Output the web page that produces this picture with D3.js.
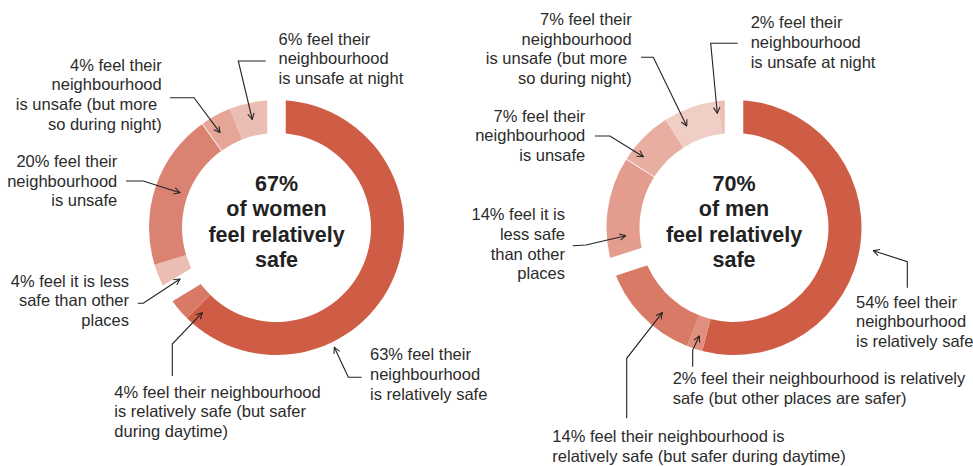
<!DOCTYPE html>
<html>
<head>
<meta charset="utf-8">
<script src="https://cdn.jsdelivr.net/npm/d3@7"></script>
<style>
  html, body { margin: 0; padding: 0; background: #fff; }
  svg { display: block; }
</style>
</head>
<body>
<svg id="chart" width="973" height="466"></svg>
<script>
// ---- DATA ----
const womenCategories = [
  "relatively safe",
  "relatively safe (but safer during daytime)",
  "less safe than other places",
  "unsafe",
  "unsafe (but more so during night)",
  "unsafe at night"
];
const womenValues = [63, 4, 4, 20, 4, 6];
const womenSafeTotal = 67;
const womenLabels = [
  "63% feel their|neighbourhood|is relatively safe",
  "4% feel their neighbourhood|is relatively safe (but safer|during daytime)",
  "4% feel it is less|safe than other|places",
  "20% feel their|neighbourhood|is unsafe",
  "4% feel their|neighbourhood|is unsafe (but more\u00A0|so during night)",
  "6% feel their|neighbourhood|is unsafe at night"
];
const womenTitle = ["67%", "of women", "feel relatively", "safe"];

const menCategories = [
  "relatively safe",
  "relatively safe (but other places are safer)",
  "relatively safe (but safer during daytime)",
  "less safe than other places",
  "unsafe",
  "unsafe (but more so during night)",
  "unsafe at night"
];
const menValues = [54, 2, 14, 14, 7, 7, 2];
const menSafeTotal = 70;
const menLabels = [
  "54% feel their|neighbourhood|is relatively safe",
  "2% feel their neighbourhood is relatively|safe (but other places are safer)",
  "14% feel their neighbourhood is|relatively safe (but safer during daytime)",
  "14% feel it is|less safe|than other|places",
  "7% feel their|neighbourhood|is unsafe",
  "7% feel their|neighbourhood|is unsafe (but more\u00A0|so during night)",
  "2% feel their|neighbourhood|is unsafe at night"
];
const menTitle = ["70%", "of men", "feel relatively", "safe"];

// ---- STYLE ----
const womenColors = ["#CF5C44", "#D97A67", "#EBBDB3", "#DA8372", "#E5A597", "#EBBDB3"];
const menColors = ["#CF5C44", "#E08E7E", "#D97A67", "#E39C8E", "#E8AEA2", "#F0CDC5", "#EBBFB5"];

// label layout: [x, first baseline, anchor, leader points...]
const womenLayout = [
  {x: 370, y: 360, a: "start", leader: [[361.7,377.3],[348.3,377.3],[334.3,347.3]]},
  {x: 114.3, y: 397.5, a: "start", leader: [[172.3,376],[172.3,344],[202.3,312.7]]},
  {x: 129, y: 286.5, a: "end", leader: [[137.7,303.3],[143.3,303.3],[180,279]]},
  {x: 117.3, y: 166.7, a: "end", leader: [[126,181],[143.3,181],[180,192.7]]},
  {x: 161.7, y: 70.5, a: "end", leader: [[170,97.7],[194,97.7],[220,132.7]]},
  {x: 278.5, y: 44.5, a: "start", leader: [[265.7,61],[238.3,61],[252.3,119.5]]}
];
const menLayout = [
  {x: 856, y: 307.5, a: "start", leader: [[907.3,287.7],[907.3,261.7],[873.3,250.7]]},
  {x: 672.7, y: 384, a: "start", leader: [[692.7,366.7],[692.7,350],[699.3,336]]},
  {x: 552.3, y: 441.7, a: "start", leader: [[626.7,418.3],[626.7,358.3],[662.3,312.7]]},
  {x: 565, y: 220, a: "end", leader: [[572.7,245.7],[586,245],[625.7,235.7]]},
  {x: 585.3, y: 121.5, a: "end", leader: [[595,136],[610,136],[643.3,156.7]]},
  {x: 631.7, y: 24.8, a: "end", leader: [[641,57.3],[653.3,57.3],[686.7,126]]},
  {x: 750.7, y: 28, a: "start", leader: [[737.7,43.3],[710.7,43.3],[717.3,113.3]]}
];

const svg = d3.select("#chart");
const FONT = "'Liberation Sans', Arial, Helvetica, sans-serif";
const outerR = 127.5, innerR = 94.5, gapW = 18.5;

const defs = svg.append("defs");
defs.append("marker")
  .attr("id", "arrow")
  .attr("viewBox", "0 0 10 10")
  .attr("refX", 9).attr("refY", 5)
  .attr("markerWidth", 8).attr("markerHeight", 8)
  .attr("markerUnits", "userSpaceOnUse")
  .attr("orient", "auto")
  .append("path")
  .attr("d", "M1.5,1 L9,5 L1.5,9")
  .attr("fill", "none")
  .attr("stroke", "#222")
  .attr("stroke-width", 1.3);

function donut(cx, cy, values, colors, safeTotal, sepIndex, title, labels, layout) {
  const g = svg.append("g").attr("transform", `translate(${cx},${cy})`);
  const total = d3.sum(values);
  const angle = d3.scaleLinear().domain([0, total]).range([0, 2 * Math.PI]);
  const pie = d3.pie().sort(null).value(d => d).startAngle(0).endAngle(2 * Math.PI);
  const arc = d3.arc().innerRadius(innerR).outerRadius(outerR);
  const arcs = pie(values);

  g.selectAll("path.seg")
    .data(arcs)
    .join("path")
    .attr("class", "seg")
    .attr("d", arc)
    .attr("fill", (d, i) => colors[i]);

  // thin separator
  const cum = d3.cumsum(values);
  const sepA = angle(cum[sepIndex]);
  g.append("line")
    .attr("x1", Math.sin(sepA) * (innerR - 1)).attr("y1", -Math.cos(sepA) * (innerR - 1))
    .attr("x2", Math.sin(sepA) * (outerR + 1)).attr("y2", -Math.cos(sepA) * (outerR + 1))
    .attr("stroke", "#fff").attr("stroke-width", 0.9);

  // gaps between the "safe" and "unsafe" groups
  [0, safeTotal].forEach(v => {
    const a = angle(v);
    g.append("line")
      .attr("x1", Math.sin(a) * (innerR - 4)).attr("y1", -Math.cos(a) * (innerR - 4))
      .attr("x2", Math.sin(a) * (outerR + 4)).attr("y2", -Math.cos(a) * (outerR + 4))
      .attr("stroke", "#fff").attr("stroke-width", gapW);
  });

  // center title
  const tOff = [-37, -11.5, 14, 39.5];
  g.selectAll("text.title")
    .data(title)
    .join("text")
    .attr("class", "title")
    .attr("x", 0)
    .attr("y", (d, i) => tOff[i])
    .attr("text-anchor", "middle")
    .attr("font-family", FONT)
    .attr("font-weight", "bold")
    .attr("font-size", "21.5px")
    .attr("fill", "#222")
    .text(d => d);

  // labels and leaders
  const line = d3.line();
  labels.forEach((lab, i) => {
    const L = layout[i];
    const t = svg.append("text")
      .attr("font-family", FONT)
      .attr("font-size", "16.5px")
      .attr("fill", "#2b2b2b")
      .attr("text-anchor", L.a);
    lab.split("|").forEach((s, j) => {
      t.append("tspan").attr("x", L.x).attr("y", L.y + j * 19.8).text(s);
    });
    svg.append("path")
      .attr("d", line(L.leader))
      .attr("fill", "none")
      .attr("stroke", "#222")
      .attr("stroke-width", 1.1)
      .attr("marker-end", "url(#arrow)");
  });
}

donut(276.5, 227.5, womenValues, womenColors, womenSafeTotal, 3, womenTitle, womenLabels, womenLayout);
donut(734, 227.5, menValues, menColors, menSafeTotal, 3, menTitle, menLabels, menLayout);
</script>
</body>
</html>
